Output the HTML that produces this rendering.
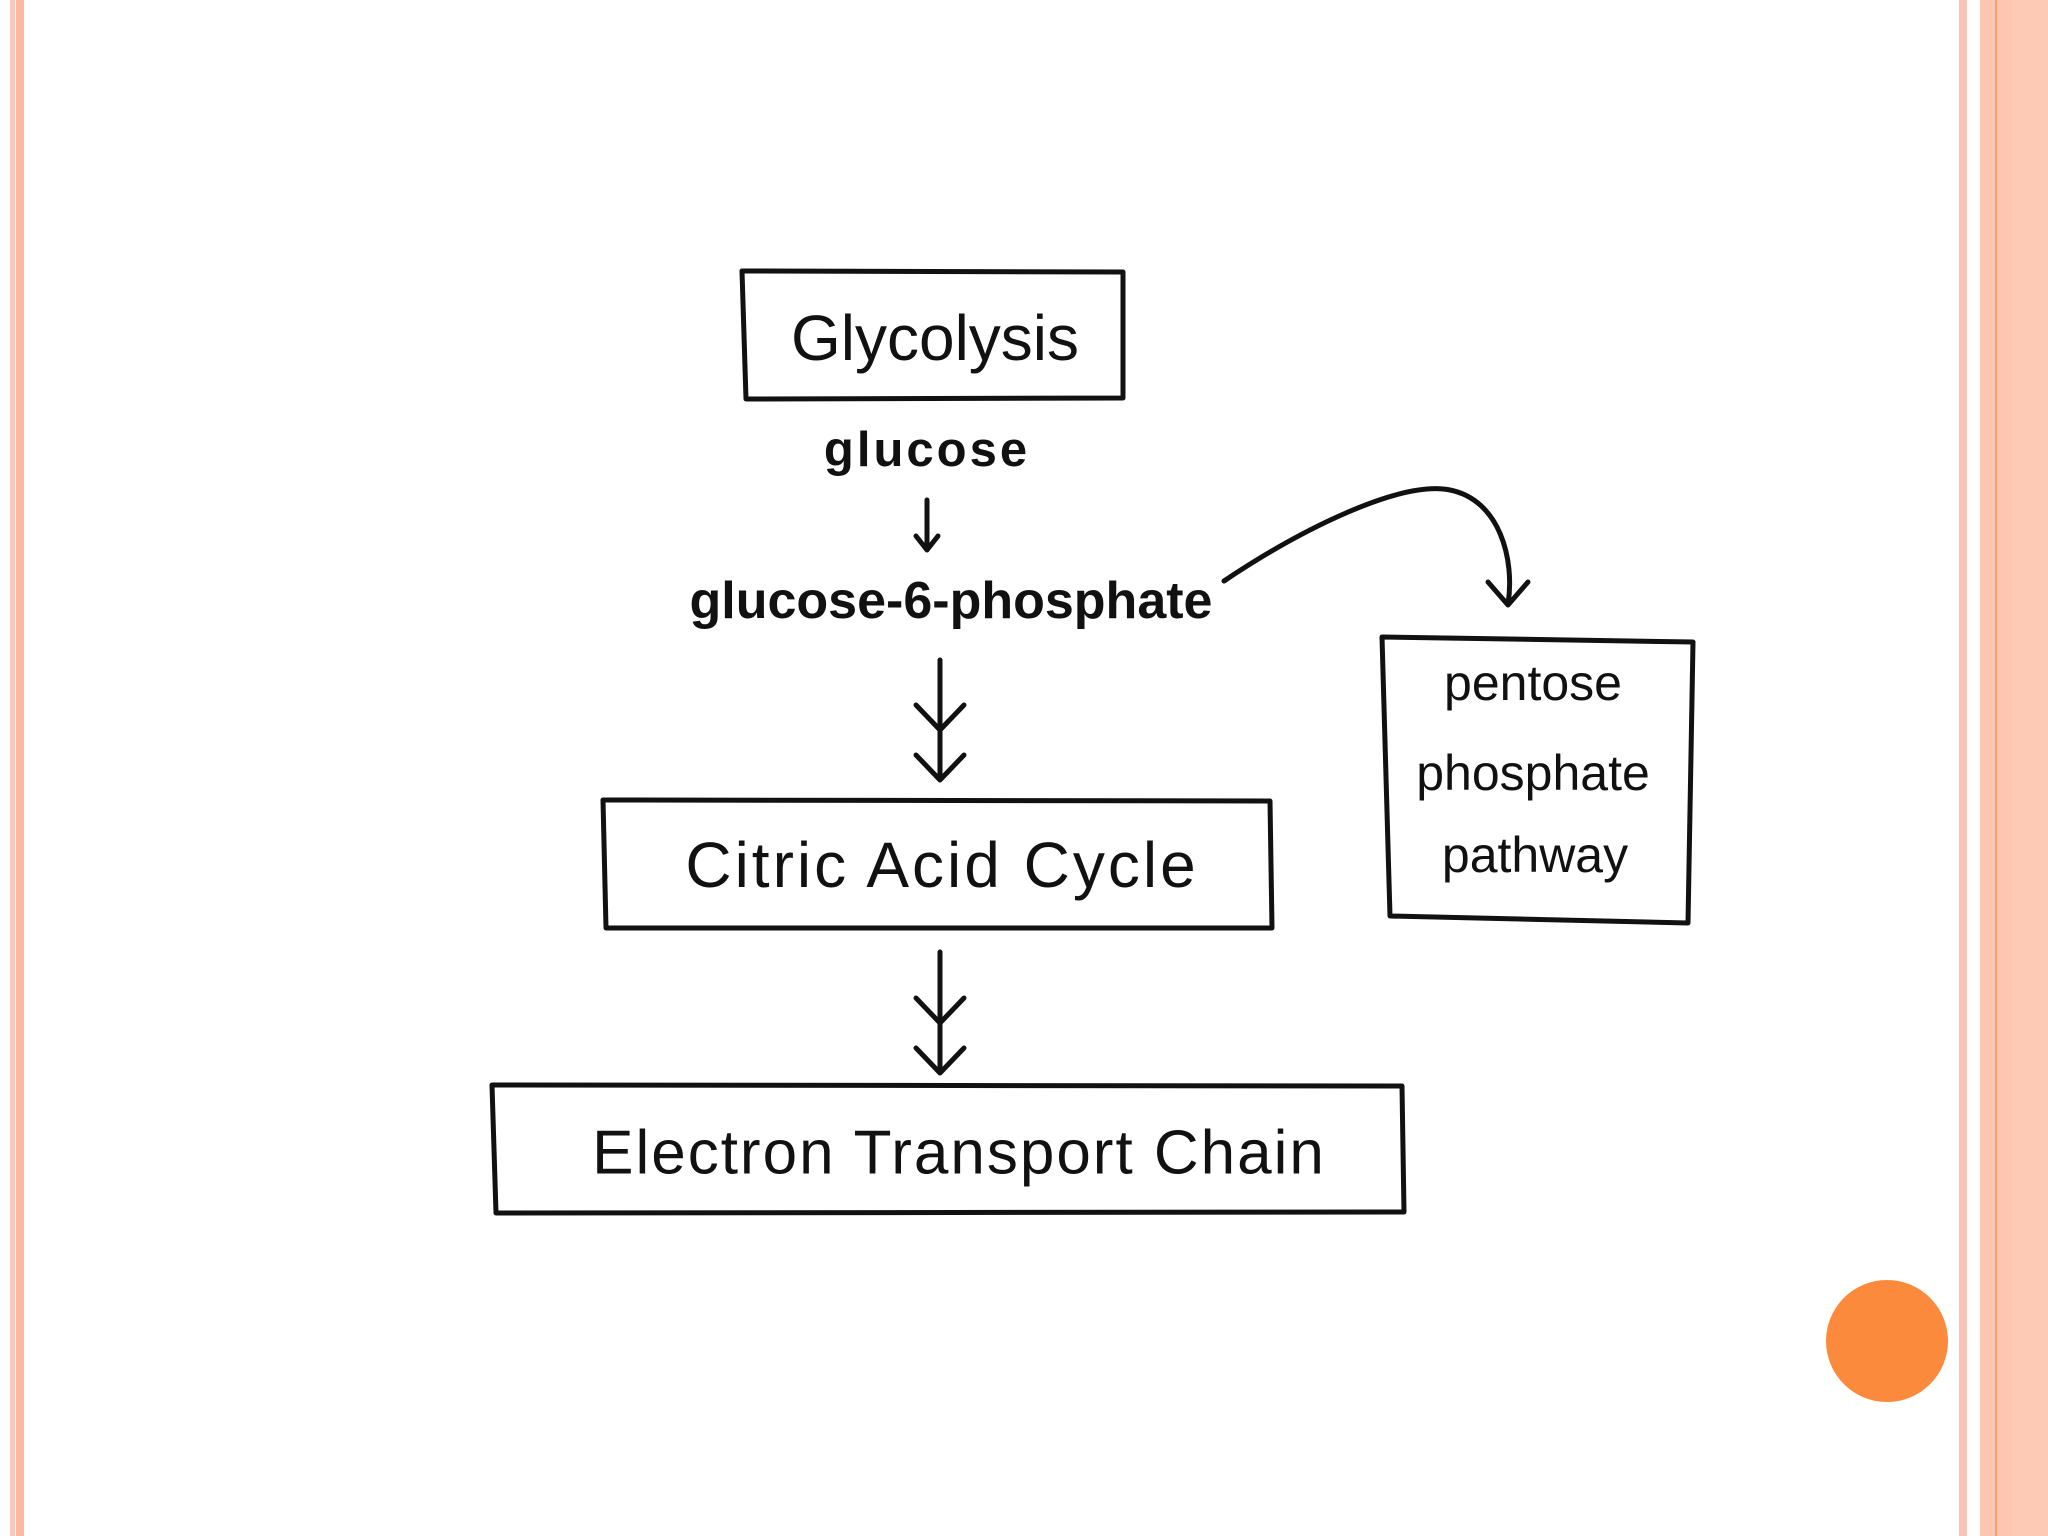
<!DOCTYPE html>
<html><head><style>
body{margin:0;width:2048px;height:1536px;position:relative;background:#fff;overflow:hidden;font-family:"Liberation Sans",sans-serif}
.t{position:absolute;white-space:nowrap;color:#111;transform:translate(-50%,-50%)}
</style></head><body>
<div style="position:absolute;left:10px;top:0;width:5px;height:1536px;background:#f9c8c0"></div>
<div style="position:absolute;left:16px;top:0;width:8px;height:1536px;background:#fcb9a0"></div>
<div style="position:absolute;left:1959px;top:0;width:8px;height:1536px;background:#f8c4b8"></div>
<div style="position:absolute;left:1980px;top:0;width:68px;height:1536px;background:#fcc6b0"></div>
<div style="position:absolute;left:1995px;top:0;width:2px;height:1536px;background:#f9a070"></div>
<div style="position:absolute;left:2012px;top:0;width:36px;height:1536px;background:#fdcab6"></div>
<div style="position:absolute;left:1826px;top:1280px;width:122px;height:122px;border-radius:50%;background:#fb8a3c"></div>
<svg width="2048" height="1536" style="position:absolute;left:0;top:0" fill="none" stroke="#111" stroke-width="5" stroke-linecap="round" stroke-linejoin="round">
<path d="M742 271 L1123 272 L1123 398 L746 399 Z"/>
<path d="M603 800 L1270 801 L1272 928 L606 928 Z"/>
<path d="M492 1085 L1402 1086 L1404 1212 L496 1213 Z"/>
<path d="M1382 637 L1693 642 L1688 923 L1390 916 Z"/>
<path d="M927 500 L927 549 M916 536 L927 550 L938 536"/>
<path d="M940 660 L940 780 M916 705 L940 730 L964 705 M916 755 L940 780 L964 755"/>
<path d="M940 952 L940 1073 M916 998 L940 1023 L964 998 M916 1048 L940 1073 L964 1048"/>
<path d="M1224 581 C1300 530 1400 480 1450 490 C1500 500 1515 560 1508 604 M1488 582 L1508 605 L1528 582"/>
</svg>
<div class="t" style="left:935px;top:338px;font-size:64px">Glycolysis</div>
<div class="t" style="left:927px;top:450px;font-size:49px;letter-spacing:3px;font-weight:bold">glucose</div>
<div class="t" style="left:951px;top:601px;font-size:52px;font-weight:bold">glucose-6-phosphate</div>
<div class="t" style="left:942px;top:865px;font-size:64px;letter-spacing:3px">Citric Acid Cycle</div>
<div class="t" style="left:959px;top:1153px;font-size:62px;letter-spacing:2px">Electron Transport Chain</div>
<div class="t" style="left:1533px;top:683px;font-size:50px">pentose</div>
<div class="t" style="left:1533px;top:773px;font-size:50px">phosphate</div>
<div class="t" style="left:1535px;top:855px;font-size:50px">pathway</div>
</body></html>
